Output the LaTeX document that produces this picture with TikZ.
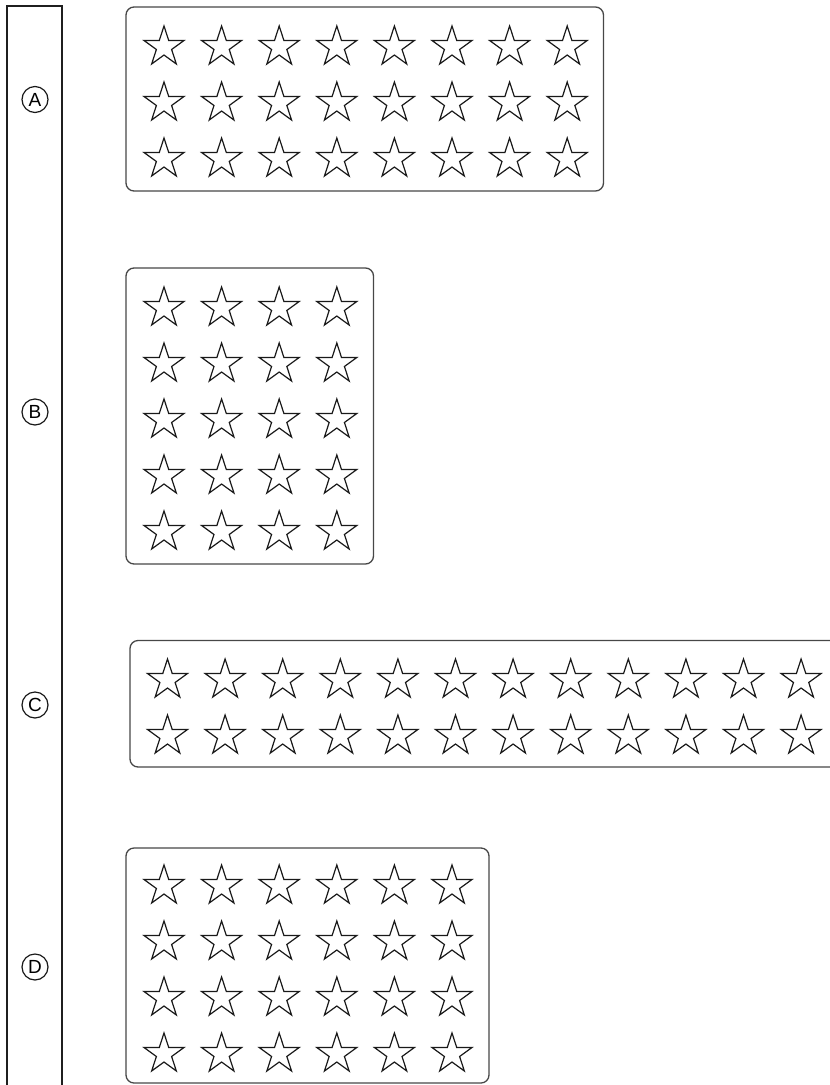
\documentclass[tikz,border=0pt]{standalone}
\usepackage{fontspec}
\setmainfont{Liberation Sans}
\usetikzlibrary{shapes.geometric}
\tikzset{
  starnode/.style={star, star points=5, star point ratio=2.618, minimum size=42pt, inner sep=0pt, draw=black!90, line width=1.2pt},
  panel/.style={draw=black!72, line width=1.3pt, rounded corners=8pt},
  rail/.style={draw=black!88, line width=1.8pt},
  tag/.style={circle, draw=black!90, line width=1.2pt, minimum size=26pt, inner sep=0pt, font=\fontsize{19}{19}\selectfont}
}
\begin{document}
\begin{tikzpicture}[x=1pt,y=-1pt]
\useasboundingbox (0,0) rectangle (830,1085);
% left rail
\draw[rail] (7,1090) -- (7,6) -- (62,6) -- (62,1090);
\node[tag] (la) at (35,99.5) {A};
\node[tag] (lb) at (35,412) {B};
\node[tag] (lc) at (35,705) {C};
\node[tag] (ld) at (35,967) {D};
% panels
\draw[panel] (126,7) rectangle (603.5,191);
\draw[panel] (126,268) rectangle (373.5,564);
\draw[panel] (130,640.5) rectangle (845,767);
\draw[panel] (126,848) rectangle (489,1083);
% stars: A 8x3
\foreach \c in {0,...,7}{\foreach \r in {0,1,2}{
  \node[starnode] (a-\c-\r) at ({164+57.6*\c},{47+56*\r}) {};}}
% B 4x5
\foreach \c in {0,...,3}{\foreach \r in {0,...,4}{
  \node[starnode] (b-\c-\r) at ({164+57.6*\c},{308+56*\r}) {};}}
% C 12x2
\foreach \c in {0,...,11}{\foreach \r in {0,1}{
  \node[starnode] (c-\c-\r) at ({167.5+57.6*\c},{680+56*\r}) {};}}
% D 6x4
\foreach \c in {0,...,5}{\foreach \r in {0,...,3}{
  \node[starnode] (d-\c-\r) at ({164+57.6*\c},{886+56*\r}) {};}}
\end{tikzpicture}
\end{document}
